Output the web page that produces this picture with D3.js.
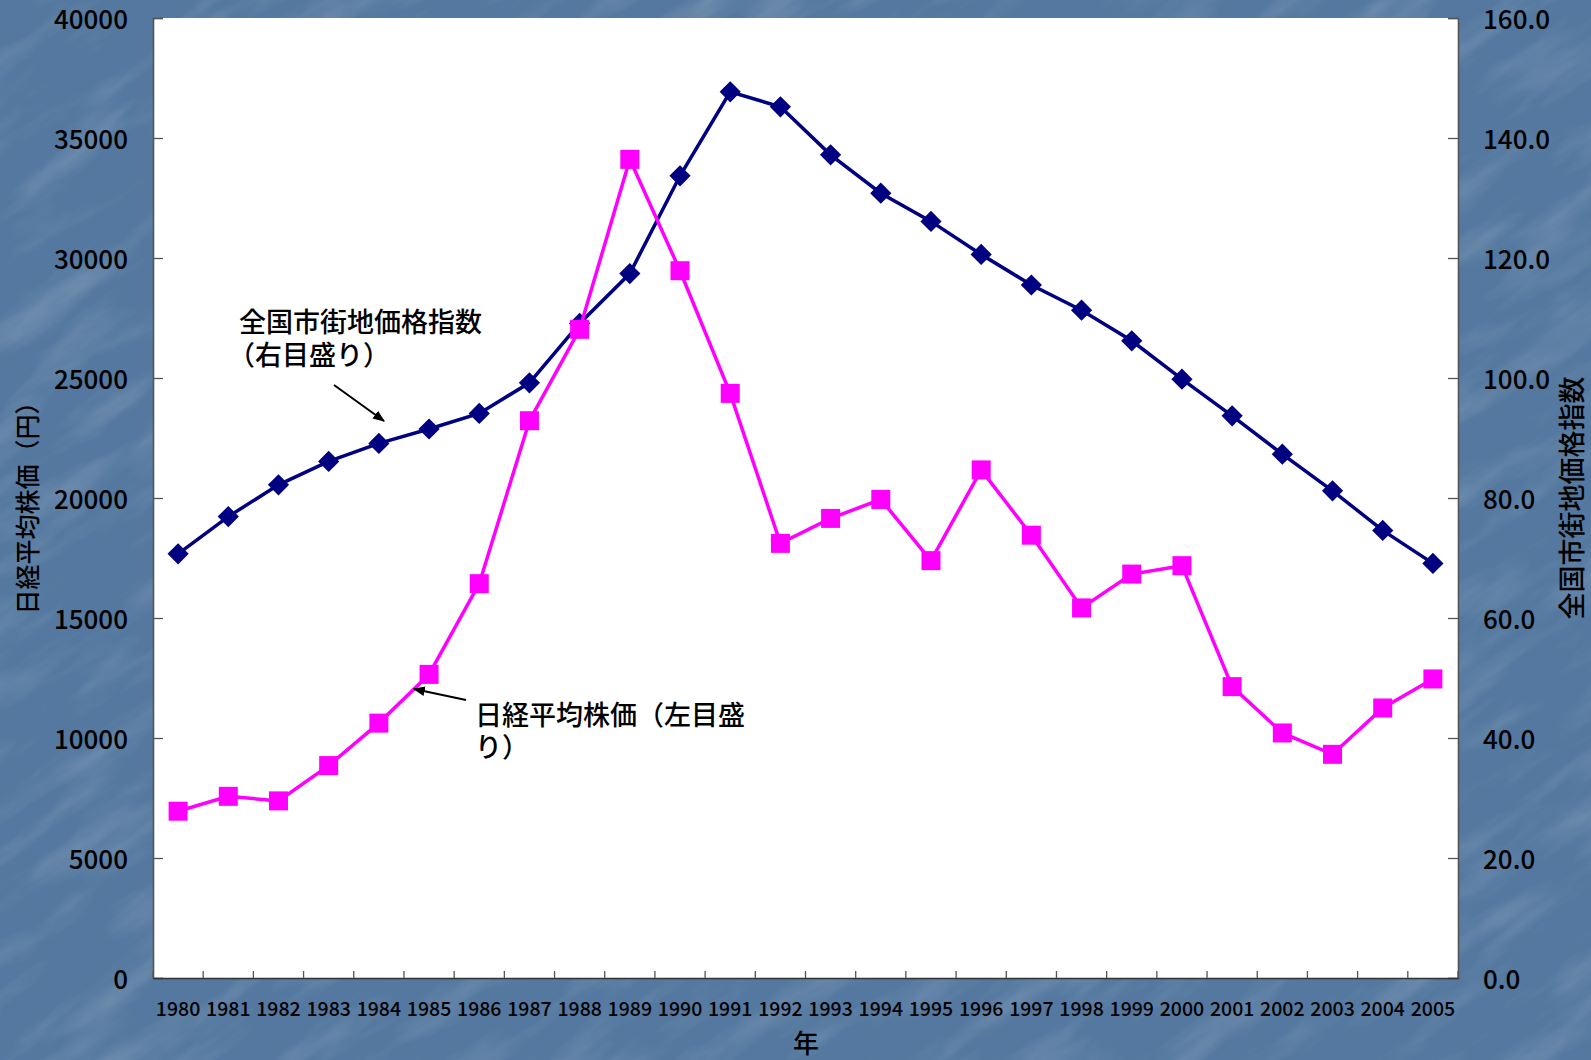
<!DOCTYPE html>
<html>
  <head>
    <meta charset="utf-8">
    <style>
      body { margin: 0; background: #56799f; }
      svg text { font-family: "Noto Sans CJK JP", "Noto Sans", sans-serif; fill: #000; font-weight: 500; }
    </style>
  </head>

  <body>

    <svg class="surface" width="1591" height="1060"></svg>

    <script src="https://cdn.jsdelivr.net/npm/d3@7/dist/d3.min.js" charset="utf-8"></script>
    <script>

      // values
      const years = ['1980','1981','1982','1983','1984','1985','1986','1987','1988','1989','1990','1991','1992',
                     '1993','1994','1995','1996','1997','1998','1999','2000','2001','2002','2003','2004','2005']
      const nikkei = [6950, 7570, 7380, 8850, 10620, 12650, 16430, 23220, 27030, 34110, 29470, 24360, 18110,
                      19150, 19940, 17390, 21170, 18450, 15420, 16830, 17180, 12140, 10210, 9320, 11250, 12460]
      const landIndex = [70.7, 76.9, 82.2, 86.1, 89.1, 91.5, 94.1, 99.2, 109.1, 117.4, 133.7, 147.7, 145.2,
                         137.2, 130.8, 126.1, 120.6, 115.5, 111.3, 106.2, 99.8, 93.7, 87.3, 81.2, 74.6, 69.1]
      const leftTicks = [0, 5000, 10000, 15000, 20000, 25000, 30000, 35000, 40000]
      const rightTicks = [0, 20, 40, 60, 80, 100, 120, 140, 160]

      const plotL = 153, plotR = 1458, plotT = 18, plotB = 978

      const surface = d3.select('.surface')

      // textured slide background
      const defs = surface.append('defs')
      const f = defs.append('filter').attr('id', 'marble')
        .attr('x', 0).attr('y', 0).attr('width', '100%').attr('height', '100%')
      f.append('feTurbulence').attr('type', 'fractalNoise')
        .attr('baseFrequency', '0.008 0.03').attr('numOctaves', 4).attr('seed', 11)
      f.append('feColorMatrix').attr('type', 'matrix')
        .attr('values', '0 0 0 0 1  0 0 0 0 1  0 0 0 0 1  0 0 0 1.1 -0.5')

      surface.append('rect').attr('width', 1591).attr('height', 1060).attr('fill', '#54789f')
      surface.append('g').attr('transform', 'rotate(-35 795 530)')
        .append('rect').attr('x', -600).attr('y', -700).attr('width', 2800).attr('height', 2500)
        .attr('filter', 'url(#marble)').attr('opacity', 0.3)

      // plot area
      surface.append('rect')
        .attr('x', plotL).attr('y', plotT)
        .attr('width', plotR - plotL).attr('height', plotB - plotT)
        .attr('fill', '#fff')

      const x = d3.scaleBand().domain(years).range([plotL, plotR])
      const yL = d3.scaleLinear().domain([0, 40000]).range([plotB, plotT])
      const yR = d3.scaleLinear().domain([0, 160]).range([plotB, plotT])
      const xc = d => x(d) + x.bandwidth() / 2

      // axes
      const gl = surface.append('g').attr('transform', `translate(${plotL},0)`)
        .call(d3.axisLeft(yL).tickValues(leftTicks).tickSize(-10).tickPadding(25).tickFormat(d3.format('d')))
      const gr = surface.append('g').attr('transform', `translate(${plotR},0)`)
        .call(d3.axisRight(yR).tickValues(rightTicks).tickSize(-10).tickPadding(25).tickFormat(d3.format('.1f')))
      const gb = surface.append('g').attr('transform', `translate(0,${plotB})`)
        .call(d3.axisBottom(x).tickSize(0).tickPadding(24))

      // tick marks between the years
      const bounds = d3.range(0, years.length + 1).map(i => plotL + i * x.step())
      surface.append('g').selectAll('line').data(bounds).enter().append('line')
        .attr('x1', d => d).attr('x2', d => d)
        .attr('y1', plotB).attr('y2', plotB - 7)
        .attr('stroke', '#555').attr('stroke-width', 1.3)

      ;[gl, gr, gb].forEach(g => {
        g.selectAll('path').attr('stroke', '#555').attr('stroke-width', 1.6)
        g.selectAll('line').attr('stroke', '#555').attr('stroke-width', 1.3)
        g.selectAll('text').attr('fill', '#000').style('font-family', '"Noto Sans CJK JP", sans-serif')
      })
      gl.selectAll('text').style('font-size', '26px').attr('dy', '0.42em')
      gr.selectAll('text').style('font-size', '26px').attr('dy', '0.42em')
      gb.selectAll('text').style('font-size', '19.5px')
      gb.select('path').attr('stroke', '#333')

      // axis titles
      surface.append('text')
        .attr('transform', 'translate(37,502) rotate(-90)')
        .attr('text-anchor', 'middle').style('font-size', '25px')
        .text('日経平均株価（円）')
      surface.append('text')
        .attr('transform', 'translate(1582,498) rotate(-90)')
        .attr('text-anchor', 'middle').style('font-size', '27px')
        .text('全国市街地価格指数')
      surface.append('text')
        .attr('x', 806).attr('y', 1053)
        .attr('text-anchor', 'middle').style('font-size', '26px')
        .text('年')

      // land price index (right scale)
      surface.append('path').datum(landIndex)
        .attr('fill', 'none').attr('stroke', '#000080').attr('stroke-width', 3.5)
        .attr('d', d3.line().x((d, i) => xc(years[i])).y(d => yR(d)))
      surface.append('g').selectAll('path').data(landIndex).enter().append('path')
        .attr('d', d3.symbol().type(d3.symbolSquare).size(225))
        .attr('transform', (d, i) => `translate(${xc(years[i])},${yR(d)}) rotate(45)`)
        .attr('fill', '#000080')

      // nikkei average (left scale)
      surface.append('path').datum(nikkei)
        .attr('fill', 'none').attr('stroke', '#ff00ff').attr('stroke-width', 3.5)
        .attr('d', d3.line().x((d, i) => xc(years[i])).y(d => yL(d)))
      surface.append('g').selectAll('rect').data(nikkei).enter().append('rect')
        .attr('x', (d, i) => xc(years[i]) - 9.5).attr('y', d => yL(d) - 9.5)
        .attr('width', 19).attr('height', 19)
        .attr('fill', '#ff00ff')

      // annotations
      defs.append('marker').attr('id', 'arrow')
        .attr('viewBox', '0 0 10 10').attr('refX', 9).attr('refY', 5)
        .attr('markerWidth', 6).attr('markerHeight', 6).attr('orient', 'auto')
        .append('path').attr('d', 'M0,1 L10,5 L0,9 Z').attr('fill', '#000')

      const note1 = surface.append('text').style('font-size', '27px')
      note1.append('tspan').attr('x', 239).attr('y', 332).text('全国市街地価格指数')
      note1.append('tspan').attr('x', 228).attr('y', 365).text('（右目盛り）')
      surface.append('line')
        .attr('x1', 334).attr('y1', 385).attr('x2', 384).attr('y2', 421)
        .attr('stroke', '#000').attr('stroke-width', 2).attr('marker-end', 'url(#arrow)')

      const note2 = surface.append('text').style('font-size', '27px')
      note2.append('tspan').attr('x', 475).attr('y', 725).text('日経平均株価（左目盛')
      note2.append('tspan').attr('x', 475).attr('y', 757).text('り）')
      surface.append('line')
        .attr('x1', 466).attr('y1', 700).attr('x2', 414).attr('y2', 689)
        .attr('stroke', '#000').attr('stroke-width', 2).attr('marker-end', 'url(#arrow)')

    </script>
  </body>

</html>
